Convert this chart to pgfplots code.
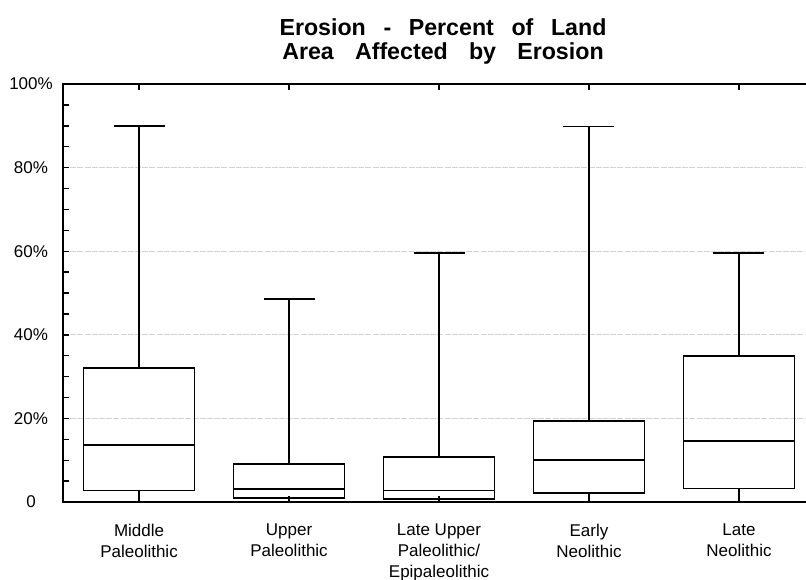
\documentclass[border=0pt]{standalone}
\usepackage{fontspec}
\setmainfont{Liberation Sans}
\usepackage{pgfplots}
\pgfplotsset{compat=1.18}
\usepgfplotslibrary{statistics}
\begin{document}
\begin{tikzpicture}
\begin{axis}[
  at={(0,0)}, anchor=south west,
  scale only axis,
  width=376pt, height=209pt,
  xmin=-0.507, xmax=4.507,
  ymin=0, ymax=100,
  clip=false,
  axis line style={black, line width=0.7pt},
  tick align=inside,
  major tick length=3pt, minor tick length=3pt,
  tick style={black, line width=0.7pt},
  xtick={0,1,2,3,4},
  xticklabels={{Middle\\Paleolithic},{Upper\\Paleolithic},{Late Upper\\Paleolithic/\\Epipaleolithic},{Early\\Neolithic},{Late\\Neolithic}},
  xticklabel style={align=center, anchor=north, yshift=-7.5pt, font=\fontsize{8.5}{10.5}\selectfont},
  ytick={0,20,40,60,80,100},
  yticklabels={0,20\%,40\%,60\%,80\%,100\%},
  minor y tick num=3,
  yticklabel style={anchor=center, xshift=-16pt, font=\fontsize{8.5}{10}\selectfont},
  ymajorgrids,
  grid style={gray!35, line width=0.5pt, dash pattern=on 3pt off 0.6pt},
  boxplot/draw direction=y,
  boxplot/box extend=0.74,
  boxplot/whisker extend=0.34,
]
\addplot[black, line width=0.8pt, solid, boxplot prepared={draw position=0, lower whisker=0, lower quartile=2.8, median=13.6, upper quartile=32.1, upper whisker=90}] coordinates {};
\addplot[black, line width=0.8pt, solid, boxplot prepared={draw position=1, lower whisker=0, lower quartile=1.0, median=3.1, upper quartile=9.1, upper whisker=48.6}] coordinates {};
\addplot[black, line width=0.8pt, solid, boxplot prepared={draw position=2, lower whisker=0, lower quartile=0.7, median=2.8, upper quartile=10.8, upper whisker=59.6}] coordinates {};
\addplot[black, line width=0.8pt, solid, boxplot prepared={draw position=3, lower whisker=0, lower quartile=2.2, median=10.0, upper quartile=19.4, upper whisker=89.8}] coordinates {};
\addplot[black, line width=0.8pt, solid, boxplot prepared={draw position=4, lower whisker=0, lower quartile=3.2, median=14.6, upper quartile=35.0, upper whisker=59.6}] coordinates {};
\node[anchor=base, font=\fontsize{11.6}{13}\selectfont\bfseries, xshift=2pt, yshift=24.5pt] at (rel axis cs:0.5,1) {\spaceskip=8.8pt\relax Erosion - Percent of Land};
\node[anchor=base, font=\fontsize{11.6}{13}\selectfont\bfseries, xshift=2pt, yshift=12.5pt] at (rel axis cs:0.5,1) {\spaceskip=10.6pt\relax Area Affected by Erosion};
\end{axis}
\pgfresetboundingbox
\path[use as bounding box] (-31.5pt,-38.5pt) rectangle (371.5pt,251pt);
\end{tikzpicture}
\end{document}
